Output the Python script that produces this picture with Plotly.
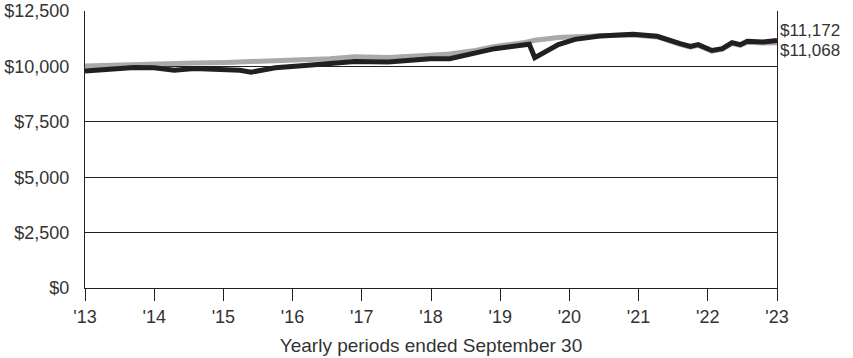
import plotly.graph_objects as go

# Decimal-year positions (Sep 30 of each year = integer)
years = [2013.00, 2013.29, 2013.71, 2014.00, 2014.29, 2014.58, 2015.05, 2015.24, 2015.40,
         2015.75, 2016.18, 2016.54, 2016.90, 2017.38, 2017.99, 2018.27, 2018.64, 2018.92,
         2019.36, 2019.42, 2019.50, 2019.84, 2020.08, 2020.44, 2020.92, 2021.27, 2021.60,
         2021.75, 2021.86, 2022.06, 2022.21, 2022.35, 2022.47, 2022.57, 2022.80, 2023.00]

fund = [9790, 9850, 9955, 9940, 9830, 9910, 9890, 9830, 9740,
        9940, 10045, 10130, 10225, 10195, 10350, 10350, 10620, 10800,
        10980, 11000, 10390, 10980, 11220, 11370, 11450, 11360, 11030,
        10900, 10980, 10720, 10800, 11070, 10980, 11130, 11100, 11172]

index = [10020, 10050, 10100, 10110, 10160, 10150, 10180, 10200, 10230,
         10280, 10300, 10350, 10440, 10400, 10500, 10560, 10720, 10900,
         11080, 11120, 11180, 11300, 11340, 11380, 11420, 11330, 11000,
         10870, 10950, 10690, 10780, 11030, 10950, 11090, 11060, 11068]

tick_years = list(range(2013, 2024))
tick_labels = ["'" + str(y)[2:] for y in tick_years]
y_ticks = [0, 2500, 5000, 7500, 10000, 12500]
y_labels = ["$0", "$2,500", "$5,000", "$7,500", "$10,000", "$12,500"]
end_labels = ["$11,172", "$11,068"]

FONT = "Liberation Sans"
TXT = "#333333"
FS = 18

fig = go.Figure()
fig.add_trace(go.Scatter(x=years, y=index, mode="lines",
                         line=dict(color="#a7a9ac", width=5), hoverinfo="skip"))
fig.add_trace(go.Scatter(x=years, y=fund, mode="lines",
                         line=dict(color="#231f20", width=5), hoverinfo="skip"))

fig.add_annotation(x=1, xref="paper", y=11640, yref="y", text=end_labels[0],
                   showarrow=False, xanchor="left", xshift=1,
                   font=dict(family=FONT, size=17, color=TXT))
fig.add_annotation(x=1, xref="paper", y=10720, yref="y", text=end_labels[1],
                   showarrow=False, xanchor="left", xshift=1,
                   font=dict(family=FONT, size=17, color=TXT))

fig.update_layout(
    width=853, height=358,
    margin=dict(l=85, r=76, t=11, b=70, autoexpand=False),
    paper_bgcolor="white", plot_bgcolor="white",
    showlegend=False,
    font=dict(family=FONT, size=FS, color=TXT),
    xaxis=dict(range=[2013, 2023], tickvals=tick_years, ticktext=tick_labels,
               automargin=False,
               ticks="outside", ticklen=12, tickwidth=1, tickcolor="#231f20",
               showgrid=False, zeroline=False,
               showline=True, linecolor="#231f20", linewidth=1, mirror=False,
               tickfont=dict(family=FONT, size=FS, color=TXT),
               title=dict(text="Yearly periods ended September 30",
                          font=dict(family=FONT, size=19, color=TXT), standoff=13)),
    yaxis=dict(range=[0, 12500], tickvals=y_ticks, ticktext=y_labels,
               automargin=False,
               showgrid=True, gridcolor="#231f20", gridwidth=1,
               zeroline=False, ticks="", ticklabelstandoff=11,
               showline=True, linecolor="#231f20", linewidth=1, mirror=True,
               tickfont=dict(family=FONT, size=FS, color=TXT)),
)

fig.write_html("out.html", config={"displayModeBar": False},
               post_script="document.body.style.margin='0';document.body.style.overflow='hidden';")
